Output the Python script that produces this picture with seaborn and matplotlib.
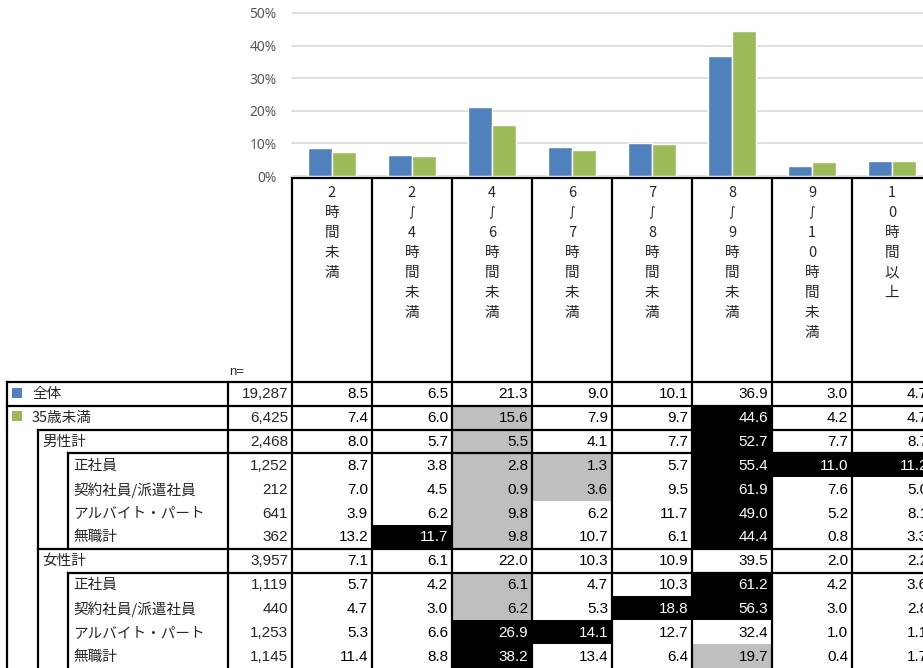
import matplotlib
matplotlib.use("Agg")
import matplotlib.pyplot as plt
import pandas as pd
import seaborn as sns
from matplotlib.patches import Rectangle

# ---- data -------------------------------------------------------------
hour_bands = ["2時間未満", "2〜4時間未満", "4〜6時間未満", "6〜7時間未満",
              "7〜8時間未満", "8〜9時間未満", "9〜10時間未満", "10時間以上"]

row_labels = ["全体", "35歳未満", "男性計", "正社員", "契約社員/派遣社員",
              "アルバイト・パート", "無職計", "女性計", "正社員",
              "契約社員/派遣社員", "アルバイト・パート", "無職計"]
row_levels = [0, 0, 1, 2, 2, 2, 2, 1, 2, 2, 2, 2]
sample_n = [19287, 6425, 2468, 1252, 212, 641, 362, 3957, 1119, 440, 1253, 1145]

all_resp     = [8.5, 6.5, 21.3, 9.0, 10.1, 36.9, 3.0, 4.7]
under35      = [7.4, 6.0, 15.6, 7.9, 9.7, 44.6, 4.2, 4.7]
male_total   = [8.0, 5.7, 5.5, 4.1, 7.7, 52.7, 7.7, 8.7]
male_regular = [8.7, 3.8, 2.8, 1.3, 5.7, 55.4, 11.0, 11.2]
male_contract = [7.0, 4.5, 0.9, 3.6, 9.5, 61.9, 7.6, 5.0]
male_parttime = [3.9, 6.2, 9.8, 6.2, 11.7, 49.0, 5.2, 8.1]
male_jobless = [13.2, 11.7, 9.8, 10.7, 6.1, 44.4, 0.8, 3.3]
female_total = [7.1, 6.1, 22.0, 10.3, 10.9, 39.5, 2.0, 2.2]
female_regular = [5.7, 4.2, 6.1, 4.7, 10.3, 61.2, 4.2, 3.6]
female_contract = [4.7, 3.0, 6.2, 5.3, 18.8, 56.3, 3.0, 2.8]
female_parttime = [5.3, 6.6, 26.9, 14.1, 12.7, 32.4, 1.0, 1.1]
female_jobless = [11.4, 8.8, 38.2, 13.4, 6.4, 19.7, 0.4, 1.7]

table_rows = [all_resp, under35, male_total, male_regular, male_contract,
              male_parttime, male_jobless, female_total, female_regular,
              female_contract, female_parttime, female_jobless]

# cell emphasis: '.' none, 'g' lower than total, 'b' higher than total
emphasis = ["........", "..g..b..", "..g..b..", "..gg.bbb", "..gg.b..",
            "..g..b..", ".bg..b..", "........", "..g..b..", "..g.bb..",
            "..bb....", "..b..g.."]

series_names = ["全体", "35歳未満"]
series_colors = ["#4F81BD", "#9BBB59"]

# ---- figure -------------------------------------------------------------
sns.set_theme(style="white")
plt.rcParams["font.family"] = ["Liberation Sans", "Noto Sans CJK JP", "DejaVu Sans"]

W, H = 923, 668
fig = plt.figure(figsize=(W / 100, H / 100), dpi=100)

# pixel-space canvas for the table
tab = fig.add_axes([0, 0, 1, 1])
tab.set_xlim(0, W)
tab.set_ylim(H, 0)
tab.axis("off")

col_x0 = 292
col_w = 80
n_cols = len(hour_bands)
col_edges = [col_x0 + col_w * i for i in range(n_cols + 1)]
row_y0 = 382
row_h = 23.83
row_edges = [row_y0 + row_h * i for i in range(len(row_labels) + 1)]
header_top = 178

# ---- bar chart ---------------------------------------------------------
base_px, top_px = 176, 13
ax = fig.add_axes([col_x0 / W, (H - base_px) / H, col_w * n_cols / W,
                   (base_px - top_px) / H])
ax.patch.set_alpha(0)
bars = pd.DataFrame({
    "区分": hour_bands * 2,
    "系列": [series_names[0]] * n_cols + [series_names[1]] * n_cols,
    "割合": all_resp + under35,
})
sns.barplot(data=bars, x="区分", y="割合", hue="系列", order=hour_bands,
            hue_order=series_names, palette=series_colors, saturation=1,
            width=0.6, edgecolor="white", linewidth=1, legend=False, ax=ax)
ax.set_xlim(-0.5, n_cols - 0.5)
ax.set_ylim(0, 50)
ax.set_yticks(range(0, 51, 10))
ax.set_yticklabels([f"{v}%" for v in range(0, 51, 10)], family="Noto Sans")
ax.set_xlabel("")
ax.set_ylabel("")
ax.tick_params(axis="x", length=0, labelbottom=False)
ax.tick_params(axis="y", length=0, pad=11, labelsize=10, labelcolor="#595959")
ax.yaxis.grid(True, color="#D9D9D9", linewidth=1.2)
ax.set_axisbelow(True)
for ln in ax.get_ygridlines():
    ln.set_clip_on(False)
for s in ax.spines.values():
    s.set_visible(False)

# ---- table: cell fills -------------------------------------------------
for r, marks in enumerate(emphasis):
    for c, m in enumerate(marks):
        if m == ".":
            continue
        fc = "#BFBFBF" if m == "g" else "black"
        tab.add_patch(Rectangle((col_edges[c], row_edges[r]), col_w, row_h,
                                facecolor=fc, edgecolor="none", zorder=1))

# ---- table: header (vertical writing) ----------------------------------
for c, band in enumerate(hour_bands):
    cx = col_edges[c] + col_w / 2
    for k, ch in enumerate(band):
        y = 193 + 20 * k
        if ch == "〜":
            tab.text(cx, y, "∫", ha="center", va="center", fontsize=9,
                     family=["DejaVu Sans"], zorder=3)
        else:
            tab.text(cx, y, ch, ha="center", va="center", fontsize=10.5,
                     family=["Noto Sans CJK JP", "DejaVu Sans"], zorder=3)
tab.text(229, 372, "n=", ha="left", va="center", fontsize=9.5,
         family=["Liberation Sans"], zorder=3)

# ---- table: body text --------------------------------------------------
label_x = {0: 32, 1: 42, 2: 73}
for r, label in enumerate(row_labels):
    cy = (row_edges[r] + row_edges[r + 1]) / 2 + 0.5
    tab.text(label_x[row_levels[r]], cy, label, ha="left", va="center",
             fontsize=10.5, family=["Noto Sans CJK JP", "DejaVu Sans"], zorder=3)
    tab.text(288, cy, f"{sample_n[r]:,}", ha="right", va="center",
             fontsize=11, family=["Liberation Sans"], zorder=3)
    for c, v in enumerate(table_rows[r]):
        color = "white" if emphasis[r][c] == "b" else "black"
        tab.text(col_edges[c + 1] - 4, cy, f"{v:.1f}", ha="right", va="center",
                 fontsize=11, color=color, family=["Liberation Sans"], zorder=3)

# legend swatches on the first two rows
for r, colr in enumerate(series_colors):
    tab.add_patch(Rectangle((12, row_edges[r] + 5.5), 10, 10, facecolor=colr,
                            edgecolor="none", zorder=3))

# ---- table: rules --------------------------------------------------------
lw = 1.6
kw = dict(color="black", lw=lw, solid_capstyle="projecting", zorder=2)
right_end = col_edges[-1]
tab.plot([col_x0, right_end], [header_top, header_top], **kw)
for x in col_edges:
    tab.plot([x, x], [header_top, H], **kw)
tab.plot([228, 228], [row_edges[0], H], **kw)
tab.plot([7, 7], [row_edges[0], H], **kw)
tab.plot([38, 38], [row_edges[2], H], **kw)
tab.plot([68, 68], [row_edges[3], row_edges[7]], **kw)
tab.plot([68, 68], [row_edges[8], H], **kw)
for r, x_start in [(0, 7), (1, 7), (2, 38), (3, 68), (7, 38), (8, 68)]:
    tab.plot([x_start, right_end], [row_edges[r], row_edges[r]], **kw)

fig.savefig("out.png", dpi=100)
